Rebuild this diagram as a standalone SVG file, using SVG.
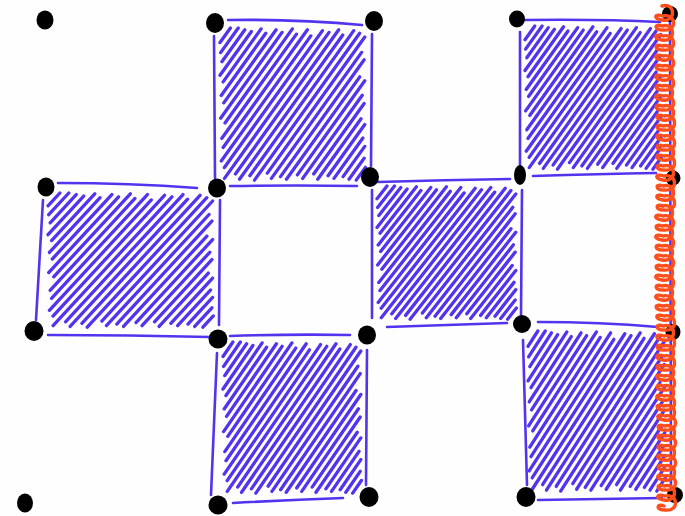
<svg xmlns="http://www.w3.org/2000/svg" xmlns:xlink="http://www.w3.org/1999/xlink" width="685" height="516" viewBox="0 0 685 516">
<style>
.edge{fill:none;stroke:#5533ee;stroke-width:2.6;stroke-linecap:round}
.hatch{fill:none;stroke:#5533ee;stroke-width:3.3;stroke-linecap:round;vector-effect:non-scaling-stroke}
.dot{fill:#000}
.curl{fill:none;stroke:#ff4d1c;stroke-width:3.4;stroke-linecap:round;stroke-linejoin:round}
</style>
<defs>
<path id="hatch" class="hatch" d="M0,13.3L10,0M0.6,22.5L17.5,0M1.8,30.9L23.8,1.6M0,43.3L30.1,3.2M3,49.3L39.4,0.8M1.2,61.7L43.9,4.8M3.6,68.5L53.8,1.6M0.6,82.5L59.5,4M4.8,86.9L69.4,0.8M1.8,100.9L73.3,5.6M3,109.3L83.8,1.6M1.2,121.7L87.1,7.2M4.2,127.7L98.2,2.4M4.3,137.6L104.5,4M14.8,133.6L113.8,1.6M18.7,138.4L117.7,6.4M28.6,135.2L128.2,2.4M33.1,139.2L133.9,4.8M45.4,132.8L138.8,8.3M49.3,137.6L135.8,22.3M58,136L138.2,29.1M63.7,138.4L134,44.7M74.2,134.4L138.8,48.3M79.3,137.6L136.4,61.5M89.8,133.6L138.2,69.1M93.7,138.4L135.2,83.1M103.6,135.2L138.8,88.3M109.3,137.6L137,100.7M118,136L138.8,108.3M123.7,138.4L138.2,119.1M130.6,139.2L139.4,127.5"/>
<path id="curl" class="curl" d="M0,0 c14,-4 14,17 0,14 c-9,-1 -8,-7 1,-4 c13,-3 15,16 0,14 c-9,0 -9,-7 -1,-4 c14,-4 14,17 0,14 c-9,-1 -8,-7 1,-4 c13,-3 15,16 0,14 c-9,0 -9,-7 -1,-4 c14,-4 14,17 0,14 c-9,-1 -8,-7 1,-4 c13,-3 15,16 0,14 c-9,0 -9,-7 -1,-4 c14,-4 14,17 0,14 c-9,-1 -8,-7 1,-4 c13,-3 15,16 0,14 c-9,0 -9,-7 -1,-4 c14,-4 14,17 0,14 c-9,-1 -8,-7 1,-4 c13,-3 15,16 0,14 c-9,0 -9,-7 -1,-4"/>
</defs>
<rect width="685" height="516" fill="#fefefe"/>

<g id="hatching">
<use xlink:href="#hatch" transform="translate(220,28) scale(1.043,1.093)"/>
<use xlink:href="#hatch" transform="translate(525,26) scale(0.979,1.029)"/>
<use xlink:href="#hatch" transform="translate(48,193) scale(1.186,0.964)"/>
<use xlink:href="#hatch" transform="translate(377,186) scale(1.0,0.957)"/>
<use xlink:href="#hatch" transform="translate(223,342) scale(0.993,1.086)"/>
<use xlink:href="#hatch" transform="translate(528,331) scale(0.986,1.15)"/>
</g>

<g id="edges">
<path class="edge" d="M228,20 Q300,19 362,25"/>
<path class="edge" d="M372,34 L371,166"/>
<path class="edge" d="M230,186 Q300,185 357,186"/>
<path class="edge" d="M214,36 L215,178"/>
<path class="edge" d="M525,20 Q600,19 660,22"/>
<path class="edge" d="M520,32 L520,165"/>
<path class="edge" d="M533,176 Q600,174 656,173"/>
<path class="edge" d="M58,183 Q130,183 197,188"/>
<path class="edge" d="M43,200 L36,320"/>
<path class="edge" d="M48,335 Q130,335 210,337"/>
<path class="edge" d="M220,200 L219,325"/>
<path class="edge" d="M378,182 Q445,180 510,179"/>
<path class="edge" d="M372,190 L372,318"/>
<path class="edge" d="M522,190 L521,315"/>
<path class="edge" d="M387,327 Q445,325 507,323"/>
<path class="edge" d="M230,336 Q290,334 350,335"/>
<path class="edge" d="M217,353 L211,495"/>
<path class="edge" d="M367,350 L366,485"/>
<path class="edge" d="M233,503 Q290,500 343,498"/>
<path class="edge" d="M538,322 Q600,322 658,327"/>
<path class="edge" d="M523,340 L527,485"/>
<path class="edge" d="M538,500 Q600,499 662,498"/>
<path class="edge" d="M670,22 L671,490"/>
</g>

<g id="dots">
<ellipse class="dot" cx="45" cy="20" rx="8.5" ry="9.5"/>
<ellipse class="dot" cx="215" cy="23" rx="9" ry="10"/>
<ellipse class="dot" cx="374" cy="21" rx="9" ry="10"/>
<ellipse class="dot" cx="517" cy="19" rx="8" ry="8.5"/>
<ellipse class="dot" cx="670" cy="14" rx="8" ry="8"/>
<ellipse class="dot" cx="46" cy="187" rx="8.5" ry="9.5"/>
<ellipse class="dot" cx="217" cy="188" rx="9" ry="9.5"/>
<ellipse class="dot" cx="370" cy="177" rx="9" ry="10"/>
<ellipse class="dot" cx="520" cy="175" rx="6" ry="10"/>
<ellipse class="dot" cx="673" cy="178" rx="7.5" ry="7.5"/>
<ellipse class="dot" cx="34" cy="331" rx="9.5" ry="10"/>
<ellipse class="dot" cx="218" cy="339" rx="9.5" ry="9.5"/>
<ellipse class="dot" cx="367" cy="335" rx="9" ry="9.5"/>
<ellipse class="dot" cx="522" cy="324" rx="9" ry="9"/>
<ellipse class="dot" cx="673" cy="332" rx="7.5" ry="8"/>
<ellipse class="dot" cx="25" cy="503" rx="8" ry="9.5"/>
<ellipse class="dot" cx="218" cy="505" rx="9.5" ry="9.5"/>
<ellipse class="dot" cx="369" cy="497" rx="9.5" ry="10"/>
<ellipse class="dot" cx="526" cy="497" rx="9.5" ry="10"/>
<ellipse class="dot" cx="675" cy="495" rx="8" ry="8"/>
</g>

<g id="red-curl">
<use xlink:href="#curl" transform="translate(662,6)"/>
<use xlink:href="#curl" transform="translate(663,106)"/>
<use xlink:href="#curl" transform="translate(662,206)"/>
<use xlink:href="#curl" transform="translate(663,306)"/>
<use xlink:href="#curl" transform="translate(664,406)"/>
</g>
</svg>
